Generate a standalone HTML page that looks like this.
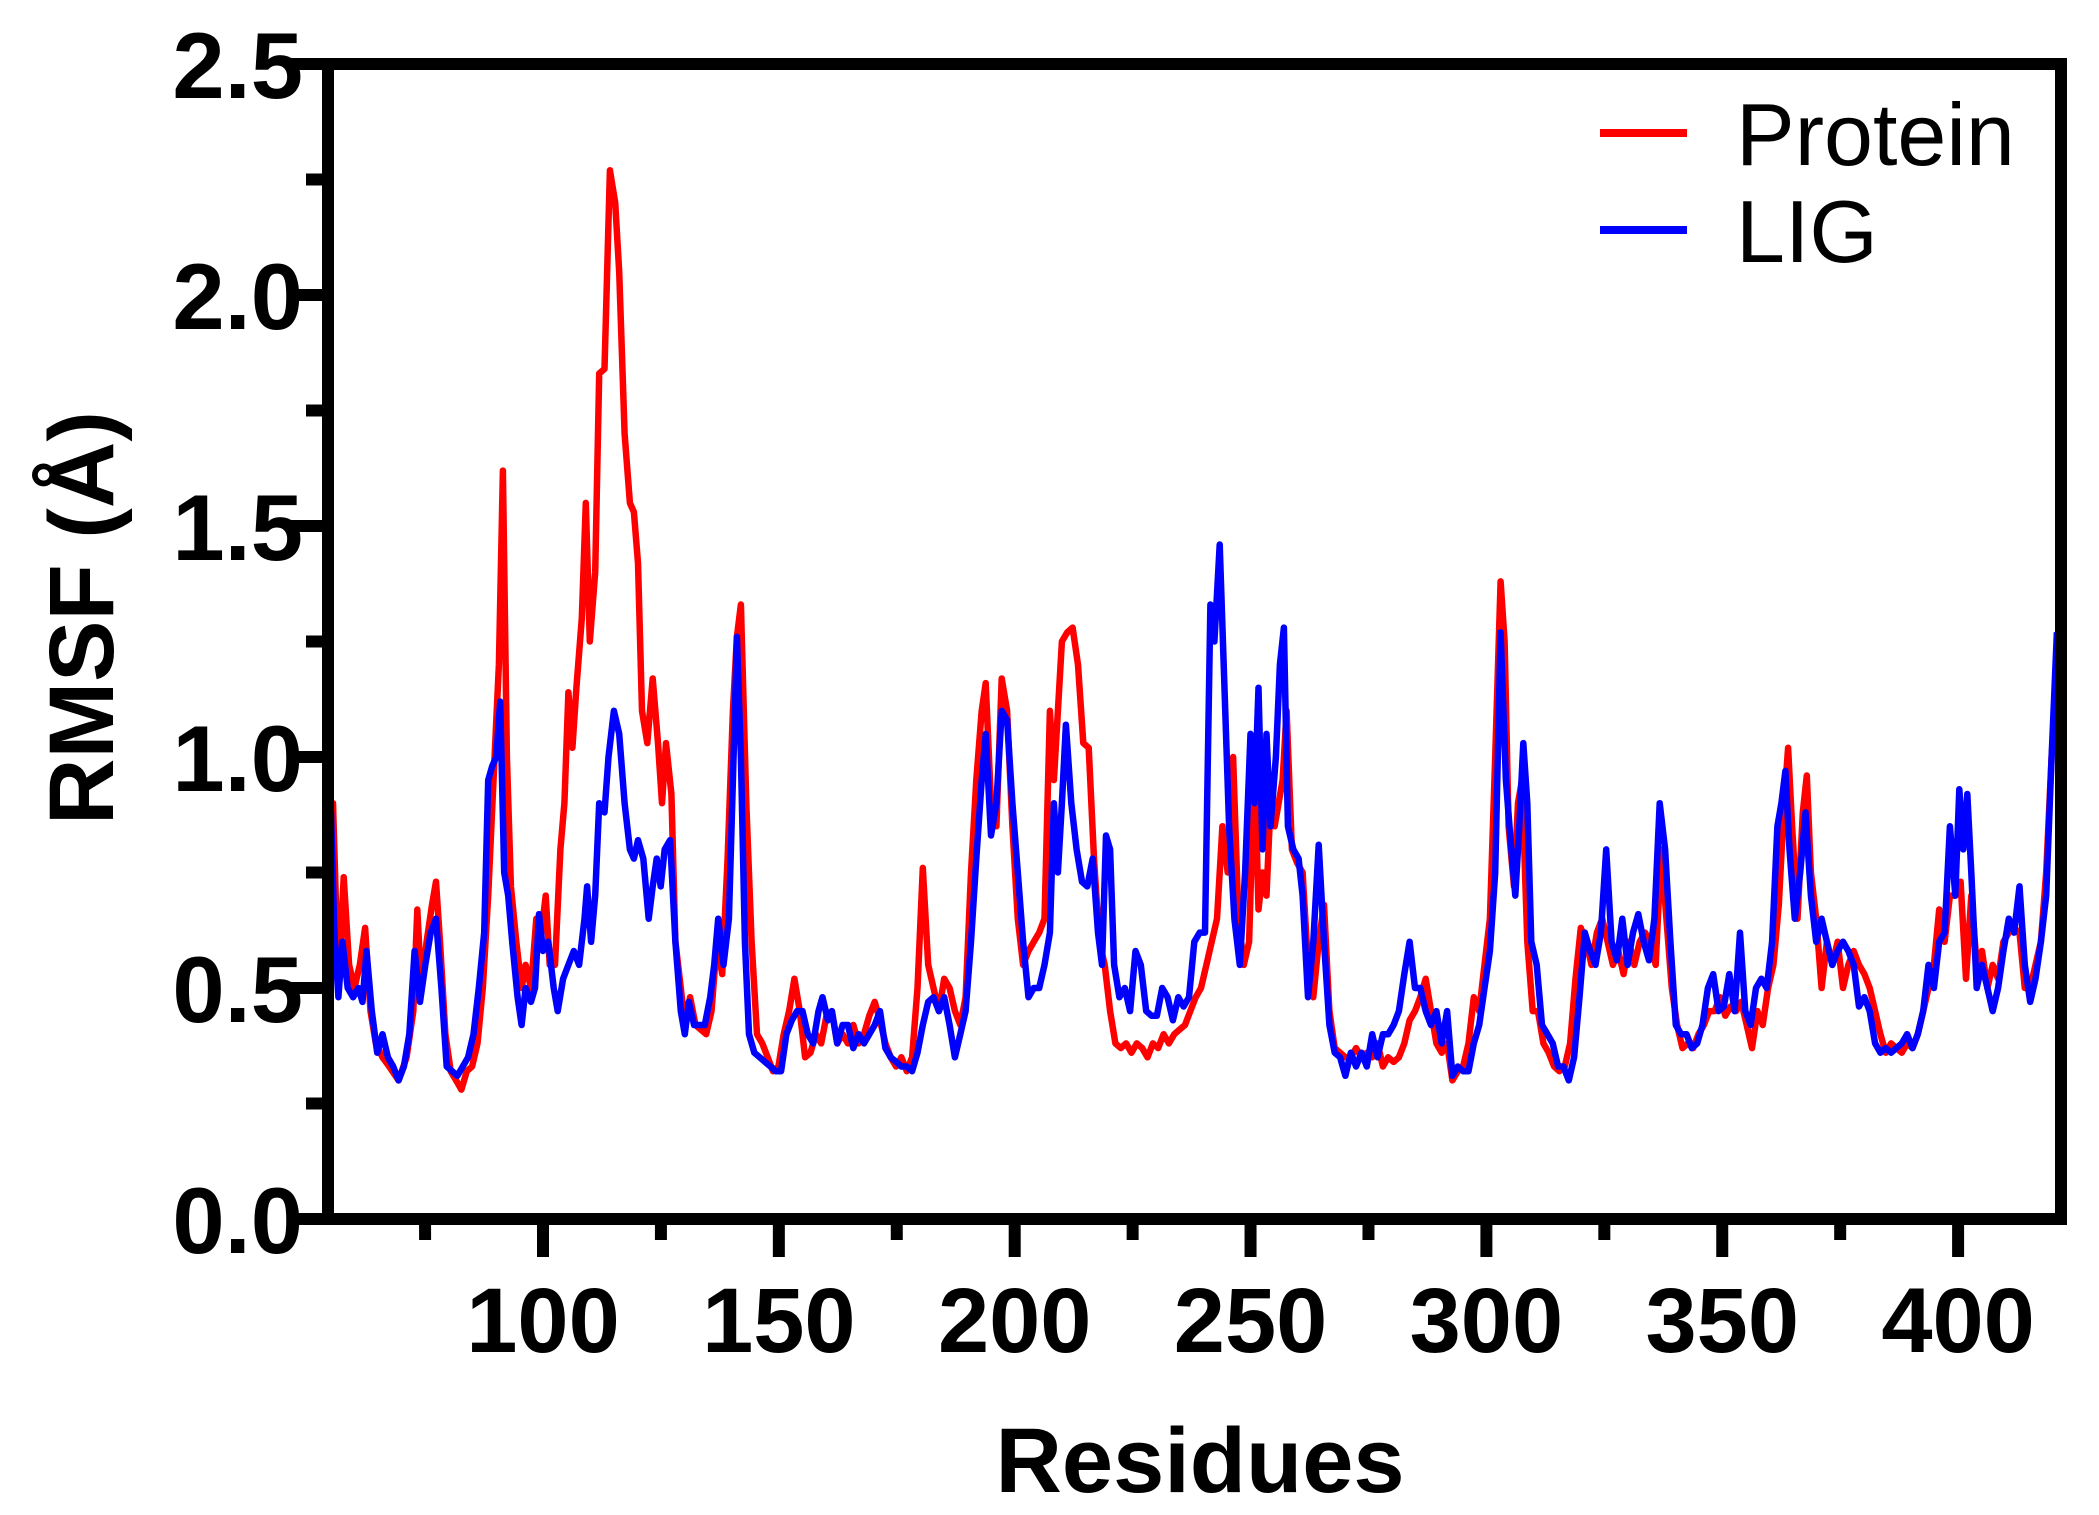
<!DOCTYPE html>
<html><head><meta charset="utf-8"><style>html,body{margin:0;padding:0;background:#fff}svg{display:block}</style></head>
<body>
<svg id="s" width="2099" height="1515" viewBox="0 0 2099 1515" xmlns="http://www.w3.org/2000/svg" font-family="Liberation Sans, Arial, sans-serif">
<g id="g"></g>
<rect x="328" y="64" width="1733" height="1155" fill="none" stroke="#000" stroke-width="12"/>
<g font-weight="bold" font-size="94" text-anchor="end" fill="#000">
<text x="303" y="1253">0.0</text><text x="303" y="1022">0.5</text><text x="303" y="791">1.0</text><text x="303" y="560">1.5</text><text x="303" y="329">2.0</text><text x="303" y="98">2.5</text>
</g>
<g id="xl" font-weight="bold" font-size="92" text-anchor="middle" fill="#000"></g>
<text x="1200" y="1492" font-weight="bold" font-size="92" text-anchor="middle">Residues</text>
<text transform="translate(113,618) rotate(-90)" font-weight="bold" font-size="92" text-anchor="middle">RMSF (Å)</text>
<line x1="1600" y1="133" x2="1687" y2="133" stroke="#ff0000" stroke-width="8"/>
<line x1="1600" y1="230" x2="1687" y2="230" stroke="#0000ff" stroke-width="8"/>
<text x="1736" y="165" font-size="88">Protein</text>
<text x="1736" y="262" font-size="88">LIG</text>
</svg>
<script>
var XD=function(xd){return Math.min(2058,Math.max(331,543+(xd-405)*1.3374))},Y=function(v){return 1219-v*462};
var X=function(r){return 543+(r-100)*4.717};
var P="245:0.9,248:0.9,252:0.5,256:0.74,260:0.55,264:0.5,268:0.55,272:0.63,276:0.45,280:0.38,285:0.35,290:0.33,297:0.3,303:0.35,308:0.45,311:0.67,314:0.5,318:0.6,322:0.68,325:0.73,328:0.6,332:0.4,336:0.32,340:0.3,344:0.28,348:0.32,352:0.33,356:0.38,360:0.5,364:0.7,368:0.95,372:1.2,375:1.62,378:1.0,381:0.72,385:0.6,389:0.5,392:0.55,396:0.5,400:0.65,403:0.6,407:0.7,410:0.55,414:0.55,418:0.8,421:0.9,424:1.14,427:1.02,430:1.15,434:1.3,437:1.55,440:1.25,444:1.4,447:1.83,451:1.84,455:2.27,459:2.2,462:2.05,466:1.7,470:1.55,473:1.53,476:1.42,479:1.1,483:1.03,487:1.17,491:1.03,494:0.9,497:1.03,501:0.92,504:0.6,508:0.5,511:0.42,515:0.48,519:0.42,523:0.41,527:0.4,531:0.45,535:0.6,539:0.53,543:0.78,547:1.1,550:1.26,553:1.33,557:0.9,561:0.6,565:0.4,569:0.38,573:0.35,577:0.32,581:0.33,585:0.4,589:0.45,593:0.52,597:0.45,601:0.35,605:0.36,609:0.4,613:0.38,617:0.44,621:0.45,625:0.38,629:0.4,633:0.38,637:0.42,641:0.38,645:0.4,649:0.44,653:0.47,657:0.43,661:0.38,665:0.35,669:0.33,673:0.35,677:0.32,681:0.35,685:0.5,689:0.76,693:0.55,697:0.5,701:0.45,705:0.52,709:0.5,713:0.45,717:0.42,721:0.48,725:0.75,729:0.95,733:1.1,736:1.16,740:0.9,744:0.85,748:1.17,752:1.1,756:0.85,760:0.65,764:0.55,768:0.58,772:0.6,776:0.62,780:0.65,784:1.1,787:0.95,790:1.1,793:1.25,797:1.27,801:1.28,805:1.2,809:1.03,813:1.02,817:0.78,821:0.6,825:0.55,829:0.45,833:0.38,837:0.37,841:0.38,845:0.36,849:0.38,853:0.37,857:0.35,861:0.38,865:0.37,869:0.4,873:0.38,877:0.4,881:0.41,885:0.42,889:0.45,893:0.48,897:0.5,901:0.55,905:0.6,909:0.65,913:0.85,917:0.75,921:1.0,925:0.65,929:0.55,933:0.6,937:1.0,940:0.67,943:0.75,946:0.7,949:0.9,952:0.85,955:0.9,958:0.95,961:1.1,965:0.8,969:0.77,973:0.75,977:0.55,981:0.48,985:0.6,989:0.68,993:0.45,997:0.37,1001:0.36,1005:0.35,1009:0.35,1013:0.37,1017:0.35,1021:0.36,1025:0.35,1029:0.38,1033:0.33,1037:0.35,1041:0.34,1045:0.35,1049:0.38,1053:0.43,1057:0.45,1061:0.48,1065:0.52,1069:0.45,1073:0.38,1077:0.36,1081:0.38,1085:0.3,1089:0.32,1093:0.33,1097:0.38,1101:0.48,1105:0.45,1109:0.55,1113:0.65,1117:1.0,1121:1.38,1124:1.25,1127:0.85,1131:0.72,1134:0.9,1137:0.95,1141:0.6,1145:0.45,1149:0.45,1153:0.38,1157:0.36,1161:0.33,1165:0.32,1169:0.33,1173:0.38,1177:0.52,1181:0.63,1185:0.6,1189:0.55,1193:0.62,1197:0.65,1201:0.6,1205:0.55,1209:0.58,1213:0.53,1217:0.6,1221:0.55,1225:0.6,1229:0.62,1233:0.6,1237:0.55,1241:0.8,1245:0.65,1249:0.5,1253:0.42,1257:0.37,1261:0.38,1265:0.37,1269:0.4,1273:0.42,1277:0.45,1281:0.45,1285:0.48,1289:0.44,1293:0.46,1297:0.45,1301:0.47,1305:0.42,1309:0.37,1313:0.45,1317:0.42,1321:0.5,1325:0.55,1329:0.68,1333:0.9,1336:1.02,1339:0.85,1343:0.65,1347:0.88,1350:0.96,1353:0.75,1357:0.65,1361:0.5,1365:0.6,1369:0.55,1373:0.6,1377:0.5,1381:0.55,1385:0.58,1389:0.55,1393:0.53,1397:0.5,1401:0.45,1405:0.4,1409:0.36,1413:0.38,1417:0.37,1421:0.36,1425:0.38,1429:0.37,1433:0.4,1437:0.45,1441:0.5,1445:0.55,1449:0.67,1453:0.6,1457:0.7,1461:0.7,1465:0.73,1469:0.52,1473:0.7,1477:0.55,1481:0.58,1485:0.5,1489:0.55,1493:0.52,1497:0.6,1501:0.62,1505:0.63,1509:0.62,1513:0.5,1517:0.5,1521:0.55,1525:0.6,1529:0.75,1533:1.0,1537:1.18";
var L="245:0.88,249:0.62,252:0.48,255:0.6,259:0.5,263:0.48,267:0.5,270:0.47,273:0.58,277:0.45,281:0.36,285:0.4,289:0.35,293:0.33,297:0.3,301:0.33,305:0.4,309:0.58,313:0.47,317:0.55,321:0.62,325:0.65,329:0.5,333:0.33,337:0.32,341:0.31,345:0.33,349:0.35,353:0.4,357:0.5,361:0.62,364:0.95,367:0.98,370:1.0,373:1.12,376:0.75,379:0.7,382:0.6,386:0.48,389:0.42,392:0.5,396:0.47,399:0.5,402:0.66,405:0.58,409:0.6,413:0.5,416:0.45,420:0.52,424:0.55,428:0.58,432:0.55,436:0.65,438:0.72,441:0.6,444:0.7,447:0.9,451:0.88,454:1.0,458:1.1,462:1.05,466:0.9,470:0.8,473:0.78,476:0.82,480:0.78,484:0.65,487:0.72,490:0.78,493:0.72,496:0.8,500:0.82,504:0.6,508:0.45,511:0.4,514:0.47,518:0.42,522:0.42,526:0.42,530:0.48,533:0.55,536:0.65,540:0.55,544:0.65,547:0.95,550:1.26,553:1.0,556:0.6,559:0.4,563:0.36,567:0.35,571:0.34,575:0.33,579:0.32,583:0.32,587:0.4,591:0.43,595:0.45,599:0.45,603:0.4,607:0.38,611:0.45,614:0.48,618:0.43,621:0.45,625:0.38,629:0.42,633:0.42,637:0.37,641:0.4,645:0.38,649:0.4,653:0.42,657:0.45,661:0.37,665:0.35,669:0.34,673:0.33,677:0.33,681:0.32,685:0.36,689:0.42,693:0.47,697:0.48,701:0.45,705:0.48,709:0.42,713:0.35,717:0.4,721:0.45,725:0.6,729:0.78,733:0.95,736:1.05,740:0.83,744:0.9,748:1.1,752:1.08,756:0.9,760:0.75,764:0.6,768:0.48,772:0.5,776:0.5,780:0.55,784:0.62,787:0.9,790:0.75,793:0.9,796:1.07,800:0.9,804:0.8,808:0.73,812:0.72,816:0.78,820:0.62,823:0.55,826:0.83,829:0.8,832:0.55,836:0.48,840:0.5,844:0.45,848:0.58,852:0.55,856:0.45,860:0.44,864:0.44,868:0.5,872:0.48,876:0.43,880:0.48,884:0.46,888:0.48,892:0.6,896:0.62,900:0.62,904:1.33,907:1.25,911:1.46,914:1.2,918:0.85,922:0.65,926:0.55,930:0.75,934:1.05,937:0.9,940:1.15,943:0.8,946:1.05,949:0.85,953:1.0,956:1.2,959:1.28,962:0.85,966:0.8,970:0.78,973:0.7,977:0.48,981:0.6,985:0.81,989:0.6,993:0.42,997:0.36,1001:0.35,1005:0.31,1009:0.36,1013:0.33,1017:0.36,1021:0.33,1025:0.4,1029:0.35,1033:0.4,1037:0.4,1041:0.42,1045:0.45,1049:0.53,1053:0.6,1057:0.5,1061:0.5,1065:0.45,1069:0.42,1073:0.45,1077:0.38,1081:0.45,1085:0.31,1089:0.33,1093:0.32,1097:0.32,1101:0.38,1105:0.42,1109:0.5,1113:0.58,1117:0.75,1121:1.27,1125:0.95,1129:0.8,1132:0.7,1135:0.85,1138:1.03,1141:0.9,1144:0.6,1148:0.55,1152:0.42,1156:0.4,1160:0.38,1164:0.33,1168:0.33,1172:0.3,1176:0.35,1180:0.48,1184:0.62,1188:0.58,1192:0.55,1196:0.62,1200:0.8,1204:0.6,1208:0.56,1212:0.65,1216:0.55,1220:0.62,1224:0.66,1228:0.6,1232:0.56,1236:0.65,1240:0.9,1244:0.8,1248:0.6,1252:0.42,1256:0.4,1260:0.4,1264:0.37,1268:0.38,1272:0.42,1276:0.5,1280:0.53,1284:0.45,1288:0.46,1292:0.53,1296:0.45,1300:0.62,1304:0.45,1308:0.42,1312:0.5,1316:0.52,1320:0.5,1324:0.6,1328:0.85,1331:0.9,1334:0.97,1337:0.8,1341:0.65,1345:0.75,1349:0.88,1353:0.7,1357:0.6,1361:0.65,1365:0.6,1369:0.55,1373:0.58,1377:0.6,1381:0.58,1385:0.55,1389:0.46,1393:0.48,1397:0.45,1401:0.38,1405:0.36,1409:0.37,1413:0.36,1417:0.37,1421:0.38,1425:0.4,1429:0.37,1433:0.4,1437:0.45,1441:0.55,1445:0.5,1449:0.6,1453:0.62,1457:0.85,1461:0.7,1464:0.93,1467:0.8,1470:0.92,1473:0.75,1477:0.5,1481:0.55,1485:0.5,1489:0.45,1493:0.5,1497:0.58,1501:0.65,1505:0.62,1509:0.72,1513:0.55,1517:0.47,1521:0.52,1525:0.6,1529:0.7,1533:1.0,1537:1.27";
function pts(s){return s.split(",").map(function(p){var a=p.split(":");return XD(+a[0]).toFixed(1)+","+Y(+a[1]).toFixed(1)}).join(" ")}
var NS="http://www.w3.org/2000/svg",g=document.getElementById("g");
function el(t,a,par){var e=document.createElementNS(NS,t);for(var k in a)e.setAttribute(k,a[k]);(par||g).appendChild(e);return e}
el("polyline",{points:pts(P),fill:"none",stroke:"#ff0000","stroke-width":6.5,"stroke-linejoin":"round"});
el("polyline",{points:pts(L),fill:"none",stroke:"#0000ff","stroke-width":6.5,"stroke-linejoin":"round"});
for(var i=0;i<=10;i++){var y=Y(i*0.25),len=(i%2==0)?38:22;el("line",{x1:334,y1:y,x2:334-6-len,y2:y,stroke:"#000","stroke-width":12})}
var xl=document.getElementById("xl");
for(var r=75;r<=400;r+=25){var x=X(r),maj=(r%50==0);el("line",{x1:x,y1:1213,x2:x,y2:maj?1257:1240,stroke:"#000","stroke-width":12});
if(maj){var t=el("text",{x:x,y:1352},xl);t.textContent=r;}}
</script>
</body></html>
